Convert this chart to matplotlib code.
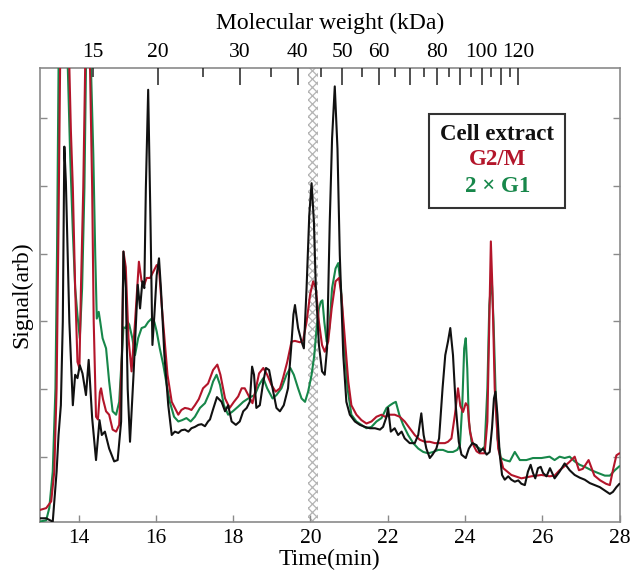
import numpy as np
import matplotlib
matplotlib.use("Agg")
import matplotlib.pyplot as plt
from matplotlib.patches import Rectangle

plt.rcParams['font.family'] = ['Liberation Serif', 'DejaVu Serif']
plt.rcParams['hatch.linewidth'] = 0.9

# ---------------- data (time in min, signal in arbitrary units) ----------------
t_cell = [12.98, 13.16, 13.33, 13.43, 13.48, 13.54, 13.59, 13.63, 13.67, 13.76, 13.85, 13.91, 13.97,
          14.03, 14.10, 14.19, 14.26, 14.35, 14.45, 14.54, 14.60, 14.68, 14.79, 14.92, 15.01, 15.10,
          15.16, 15.22, 15.27, 15.33, 15.42, 15.53, 15.59, 15.65, 15.70, 15.74, 15.80, 15.86, 15.91,
          15.96, 16.02, 16.08, 16.13, 16.22, 16.32, 16.41, 16.49, 16.58, 16.66, 16.75, 16.84, 16.92,
          17.01, 17.10, 17.18, 17.27, 17.35, 17.40, 17.48, 17.58, 17.70, 17.79, 17.87, 17.96, 18.07,
          18.17, 18.26, 18.35, 18.43, 18.49, 18.54, 18.60, 18.69, 18.78, 18.85, 18.93, 19.02, 19.12,
          19.21, 19.31, 19.42, 19.50, 19.56, 19.60, 19.68, 19.77, 19.83, 19.90, 19.97, 20.03, 20.09,
          20.14, 20.22, 20.30, 20.37, 20.43, 20.50, 20.56, 20.63, 20.70, 20.76, 20.85, 20.93, 21.02,
          21.15, 21.28, 21.41, 21.54, 21.67, 21.80, 21.88, 21.97, 22.01, 22.08, 22.18, 22.27, 22.36,
          22.44, 22.57, 22.70, 22.79, 22.87, 22.93, 23.00, 23.09, 23.16, 23.26, 23.33, 23.42, 23.49,
          23.56, 23.62, 23.69, 23.76, 23.84, 23.91, 24.02, 24.10, 24.19, 24.30, 24.38, 24.47, 24.56,
          24.64, 24.70, 24.75, 24.79, 24.84, 24.90, 24.96, 25.03, 25.12, 25.20, 25.29, 25.38, 25.46,
          25.55, 25.63, 25.70, 25.76, 25.82, 25.89, 25.96, 26.02, 26.11, 26.20, 26.32, 26.45, 26.58,
          26.71, 26.84, 26.97, 27.10, 27.23, 27.36, 27.49, 27.62, 27.75, 27.83, 27.92, 28.00]
v_cell = [0.09, 0.09, 0.04, 0.78, 1.32, 1.76, 2.99, 5.58, 5.06, 2.99, 1.76, 2.21, 2.16,
          2.35, 2.23, 1.91, 2.43, 1.57, 0.95, 1.54, 1.32, 1.37, 1.12, 0.93, 0.95, 1.52,
          4.03, 3.49, 2.00, 1.22, 2.20, 3.54, 3.19, 3.59, 3.49, 4.97, 6.42, 4.47, 2.65,
          3.09, 3.68, 3.93, 3.49, 2.50, 1.76, 1.32, 1.37, 1.35, 1.39, 1.40, 1.37, 1.42,
          1.44, 1.47, 1.48, 1.45, 1.52, 1.55, 1.70, 1.88, 1.81, 1.67, 1.76, 1.52, 1.47,
          1.52, 1.67, 1.72, 1.81, 2.33, 2.21, 1.72, 1.76, 2.11, 2.31, 2.28, 2.01, 1.72,
          1.67, 1.76, 2.01, 2.60, 3.10, 3.24, 2.90, 2.70, 2.60, 3.49, 4.57, 5.04, 4.47,
          3.49, 2.65, 2.26, 2.21, 2.60, 4.47, 5.70, 6.47, 5.55, 3.98, 2.50, 1.81, 1.62,
          1.52, 1.47, 1.44, 1.42, 1.42, 1.40, 1.44, 1.59, 1.72, 1.37, 1.42, 1.32, 1.37,
          1.27, 1.20, 1.20, 1.32, 1.64, 1.32, 1.12, 0.98, 1.03, 1.12, 1.27, 2.01, 2.50,
          2.70, 2.90, 2.50, 1.76, 1.22, 1.03, 0.98, 1.12, 1.20, 1.17, 1.07, 1.12, 1.03,
          1.07, 1.42, 1.86, 1.96, 1.62, 1.03, 0.73, 0.66, 0.71, 0.66, 0.63, 0.65, 0.60,
          0.58, 0.78, 0.88, 0.76, 0.68, 0.83, 0.85, 0.76, 0.71, 0.83, 0.68, 0.78, 0.90,
          0.80, 0.73, 0.69, 0.66, 0.61, 0.58, 0.55, 0.50, 0.45, 0.48, 0.55, 0.60]

t_g2m = [12.98, 13.16, 13.29, 13.37, 13.43, 13.48, 13.52, 13.58, 13.64, 13.70, 13.76, 13.80, 13.85,
         13.91, 13.97, 14.02, 14.06, 14.12, 14.17, 14.23, 14.29, 14.35, 14.39, 14.45, 14.50, 14.55,
         14.58, 14.63, 14.71, 14.79, 14.88, 14.97, 15.05, 15.12, 15.16, 15.22, 15.29, 15.37, 15.46,
         15.56, 15.63, 15.70, 15.76, 15.85, 15.93, 16.02, 16.08, 16.15, 16.22, 16.30, 16.41, 16.49,
         16.58, 16.66, 16.75, 16.84, 16.92, 17.01, 17.11, 17.22, 17.35, 17.48, 17.59, 17.67, 17.79,
         17.91, 18.02, 18.13, 18.22, 18.30, 18.39, 18.50, 18.59, 18.67, 18.78, 18.88, 18.99, 19.10,
         19.21, 19.29, 19.40, 19.51, 19.60, 19.73, 19.81, 19.90, 19.99, 20.07, 20.14, 20.22, 20.30,
         20.37, 20.46, 20.55, 20.65, 20.74, 20.80, 20.89, 20.98, 21.06, 21.19, 21.32, 21.45, 21.58,
         21.71, 21.84, 21.93, 22.06, 22.18, 22.31, 22.44, 22.57, 22.70, 22.83, 22.96, 23.09, 23.22,
         23.35, 23.48, 23.56, 23.65, 23.74, 23.82, 23.88, 23.95, 24.02, 24.07, 24.13, 24.21, 24.30,
         24.38, 24.51, 24.58, 24.63, 24.67, 24.71, 24.77, 24.86, 24.99, 25.20, 25.46, 25.72, 25.98,
         26.19, 26.32, 26.45, 26.58, 26.70, 26.84, 26.95, 27.05, 27.20, 27.35, 27.50, 27.65, 27.75,
         27.83, 27.92, 28.00]
v_g2m = [0.21, 0.24, 0.34, 0.78, 2.01, 4.47, 6.74, 8.50, 9.00, 8.00, 6.74, 5.80, 4.97,
         3.49, 2.40, 2.31, 3.49, 4.97, 6.74, 9.00, 6.90, 4.97, 3.00, 1.59, 1.55, 1.95,
         2.01, 1.85, 1.67, 1.62, 1.40, 1.37, 1.47, 2.50, 4.03, 3.80, 2.75, 2.26, 2.99,
         3.88, 3.59, 3.54, 3.64, 3.64, 3.73, 3.83, 3.78, 3.24, 2.75, 2.21, 1.81, 1.72,
         1.62, 1.69, 1.72, 1.71, 1.69, 1.76, 1.85, 2.01, 2.08, 2.28, 2.36, 2.21, 1.86,
         1.72, 1.81, 1.89, 2.01, 2.01, 1.91, 1.79, 2.01, 2.23, 2.31, 2.21, 2.06, 1.96,
         2.01, 2.16, 2.40, 2.70, 2.71, 2.69, 2.72, 2.99, 3.39, 3.59, 3.49, 2.99, 2.65,
         2.55, 2.70, 3.19, 3.59, 3.64, 3.39, 2.75, 2.11, 1.76, 1.62, 1.54, 1.49, 1.52,
         1.59, 1.62, 1.59, 1.62, 1.62, 1.59, 1.52, 1.42, 1.32, 1.25, 1.22, 1.22, 1.20,
         1.20, 1.20, 1.22, 1.27, 1.62, 2.01, 1.75, 1.66, 1.79, 1.75, 1.37, 1.18, 1.08,
         1.05, 1.05, 1.52, 2.99, 4.18, 3.49, 2.01, 1.12, 0.83, 0.73, 0.68, 0.71, 0.73,
         0.71, 0.72, 0.80, 0.86, 0.92, 1.00, 0.80, 0.82, 0.95, 0.72, 0.65, 0.60, 0.58,
         0.80, 1.02, 1.05]

t_g1 = [12.98, 13.16, 13.24, 13.33, 13.40, 13.44, 13.48, 13.54, 13.60, 13.66, 13.72, 13.78, 13.85,
        13.91, 13.97, 14.03, 14.09, 14.15, 14.19, 14.25, 14.32, 14.38, 14.43, 14.47, 14.52, 14.56,
        14.62, 14.71, 14.79, 14.88, 14.97, 15.05, 15.12, 15.16, 15.22, 15.27, 15.31, 15.39, 15.46,
        15.54, 15.63, 15.72, 15.80, 15.89, 15.96, 16.02, 16.10, 16.19, 16.28, 16.36, 16.47, 16.58,
        16.68, 16.79, 16.90, 17.01, 17.14, 17.27, 17.40, 17.48, 17.57, 17.66, 17.76, 17.87, 17.99,
        18.13, 18.26, 18.39, 18.48, 18.56, 18.67, 18.78, 18.88, 19.02, 19.12, 19.25, 19.38, 19.48,
        19.57, 19.68, 19.77, 19.86, 19.94, 20.03, 20.10, 20.16, 20.22, 20.27, 20.31, 20.36, 20.42,
        20.49, 20.56, 20.65, 20.72, 20.79, 20.87, 20.96, 21.06, 21.19, 21.32, 21.45, 21.58, 21.71,
        21.84, 21.97, 22.06, 22.14, 22.21, 22.30, 22.40, 22.53, 22.66, 22.79, 22.92, 23.05, 23.18,
        23.31, 23.43, 23.56, 23.69, 23.80, 23.87, 23.93, 23.98, 24.02, 24.06, 24.10, 24.17, 24.30,
        24.43, 24.51, 24.58, 24.63, 24.69, 24.74, 24.79, 24.84, 24.93, 25.03, 25.16, 25.29, 25.42,
        25.59, 25.76, 25.98, 26.19, 26.32, 26.45, 26.58, 26.71, 26.84, 26.97, 27.10, 27.27, 27.44,
        27.62, 27.75, 27.88, 28.00]
v_g1 = [0.04, 0.06, 0.24, 0.78, 2.01, 3.98, 6.74, 9.00, 9.50, 8.50, 6.74, 5.46, 4.32,
        3.49, 3.09, 2.75, 3.49, 4.97, 6.74, 9.00, 6.74, 5.46, 3.98, 3.04, 3.14, 2.99,
        2.75, 2.60, 2.11, 1.67, 1.62, 1.81, 2.50, 2.91, 2.90, 2.99, 2.95, 2.75, 2.50,
        2.75, 2.90, 2.92, 2.99, 3.04, 2.99, 2.85, 2.60, 2.36, 2.06, 1.81, 1.59, 1.52,
        1.54, 1.57, 1.52, 1.59, 1.72, 1.79, 1.96, 2.11, 2.21, 2.06, 1.76, 1.62, 1.67,
        1.74, 1.81, 1.86, 1.89, 1.91, 2.06, 2.16, 2.01, 1.86, 1.91, 2.01, 2.21, 2.31,
        2.21, 2.01, 1.86, 1.81, 1.96, 2.21, 2.50, 2.90, 3.19, 3.29, 3.31, 2.99, 2.70,
        2.90, 3.49, 3.78, 3.86, 3.49, 2.70, 2.01, 1.62, 1.52, 1.47, 1.42, 1.44, 1.52,
        1.57, 1.72, 1.76, 1.79, 1.81, 1.62, 1.47, 1.32, 1.20, 1.12, 1.07, 1.05, 1.07,
        1.10, 1.10, 1.07, 1.07, 1.10, 1.17, 1.76, 2.60, 2.75, 2.30, 1.52, 1.22, 1.15,
        1.10, 1.15, 2.01, 3.24, 3.66, 2.99, 2.01, 1.27, 0.98, 0.95, 0.93, 1.07, 0.95,
        0.95, 0.98, 0.98, 1.00, 0.95, 1.00, 0.98, 1.00, 0.93, 0.88, 0.85, 0.80, 0.76,
        0.72, 0.72, 0.80, 0.86]

series_names = ["Cell extract", "G2/M", "2 × G1"]
series_colors = ["#111111", "#b3152a", "#17874a"]

time_ticks = [14, 16, 18, 20, 22, 24, 26, 28]
signal_ticks = [1, 2, 3, 4, 5, 6]

# molecular weight calibration (kDa -> elution time)
cal_mw = [15, 20, 120]
cal_time = [14.36, 16.06, 25.38]
mw_major = [20, 30, 40, 50, 60, 70, 80, 90, 100, 110, 120]
mw_major_labels = ["20", "30", "40", "50", "60", "", "80", "", "100", "", "120"]
mw_minor = [15, 25, 35, 45, 55, 65, 75, 85, 95, 105, 115]
mw_minor_labels = ["15", "", "", "", "", "", "", "", "", "", ""]

band_start, band_end = 19.93, 20.19


def mw2t(m):
    return np.interp(np.log10(m), np.log10(cal_mw), cal_time)


# ---------------- figure ----------------
W, H = 634, 571
fig = plt.figure(figsize=(W / 100, H / 100), dpi=100)
L, R, T, B = 40, 619.5, 67.7, 522
ax = fig.add_axes([L / W, 1 - B / H, (R - L) / W, (B - T) / H])
ax.set_xlim(13, 28)
ax.set_ylim(0.035, 6.746)

ax.add_patch(Rectangle((band_start, 0.035), band_end - band_start, 6.711,
                       facecolor="white", edgecolor="#b4b4b4", hatch="xxxx",
                       lw=0, zorder=1))

ax.plot(t_g1, v_g1, color=series_colors[2], lw=1.5, zorder=3,
        solid_joinstyle="round", solid_capstyle="round")
ax.plot(t_g2m, v_g2m, color=series_colors[1], lw=1.5, zorder=4,
        solid_joinstyle="round", solid_capstyle="round")
ax.plot(t_cell, v_cell, color=series_colors[0], lw=1.5, zorder=5,
        solid_joinstyle="round", solid_capstyle="round")

for s in ax.spines.values():
    s.set_color("#8a8a8a")
    s.set_linewidth(1.2)

ax.set_xticks(time_ticks)
ax.set_xticklabels([str(v) for v in time_ticks])
ax.set_yticks(signal_ticks)
ax.set_yticklabels([])
ax.tick_params(axis="x", direction="in", length=5, width=1, color="#8a8a8a",
               labelsize=15.5, pad=5, top=False)
ax.tick_params(axis="y", direction="in", length=5, width=1, color="#8a8a8a",
               left=True, right=True)
ax.set_xlabel("Time(min)", fontsize=17, labelpad=1)
ax.set_ylabel("Signal(arb)", fontsize=17, labelpad=2)

# top molecular weight axis
ax2 = ax.twiny()
ax2.set_xlim(ax.get_xlim())
ax2.set_xticks(mw2t(np.array(mw_major)))
ax2.set_xticklabels(mw_major_labels)
ax2.set_xticks(mw2t(np.array(mw_minor)), minor=True)
ax2.set_xticklabels(mw_minor_labels, minor=True)
ax2.tick_params(axis="x", which="major", direction="in", length=12, width=1.1,
                color="#222222", labelsize=15.5, pad=4)
ax2.tick_params(axis="x", which="minor", direction="in", length=6.5, width=1.1,
                color="#222222", labelsize=15.5, pad=4)
for s in ax2.spines.values():
    s.set_visible(False)
ax2.set_xlabel("Molecular weight (kDa)", fontsize=17, labelpad=10)

# legend box
lx0, lx1, ly0, ly1 = 0.671, 0.906, 0.691, 0.898
ax.add_patch(Rectangle((lx0, ly0), lx1 - lx0, ly1 - ly0, transform=ax.transAxes,
                       facecolor="white", edgecolor="#333333", lw=1.5, zorder=6))
for name, col, yy in zip(series_names, series_colors, [0.854, 0.797, 0.738]):
    ax.text(0.789, yy, name, transform=ax.transAxes, ha="center", va="center",
            fontsize=16.5, fontweight="bold", color=col, zorder=7)

fig.savefig("out.png", dpi=100)
